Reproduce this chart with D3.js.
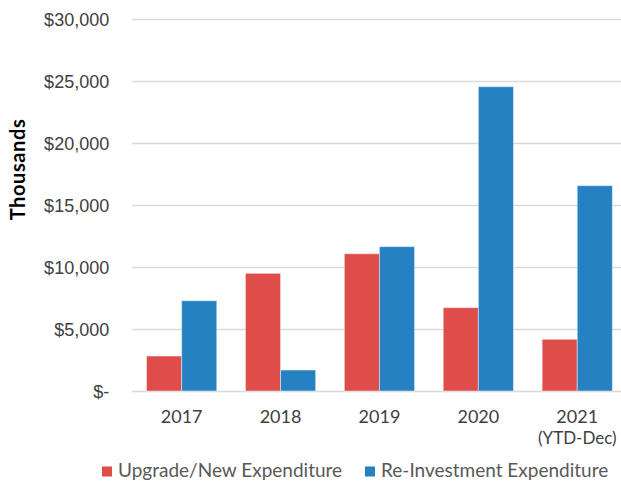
<!DOCTYPE html>
<html>
<head>
<meta charset="utf-8">
<script src="https://cdn.jsdelivr.net/npm/d3@7"></script>
<style>
  html, body { margin: 0; padding: 0; background: #fff; overflow: hidden; }
  svg { display: block; font-family: Lato, "Open Sans", sans-serif; }
</style>
</head>
<body>
<svg id="chart" width="621" height="485"></svg>
<script>
const categories = ["2017", "2018", "2019", "2020", "2021"];
const categoryLines = [["2017"], ["2018"], ["2019"], ["2020"], ["2021", "(YTD-Dec)"]];
const seriesNames = ["Upgrade/New Expenditure", "Re-Investment Expenditure"];
const upgradeNew = [2820, 9490, 11070, 6720, 4170];
const reInvestment = [7280, 1690, 11640, 24540, 16560];
const yTicks = [0, 5000, 10000, 15000, 20000, 25000, 30000];
const yTickLabels = ["$-", "$5,000", "$10,000", "$15,000", "$20,000", "$25,000", "$30,000"];
const colors = ["#DF4D4B", "#2581C2"];

const svg = d3.select("#chart");
const plotLeft = 132.2, plotRight = 626.7, plotTop = 19, plotBottom = 391;

const x = d3.scaleBand().domain(categories).range([plotLeft, plotRight])
  .paddingInner(0.29).paddingOuter(0.145);
const xs = d3.scaleBand().domain([0, 1]).range([0, x.bandwidth()]);
const y = d3.scaleLinear().domain([0, 30000]).range([plotBottom, plotTop]);

// gridlines
const yAxis = d3.axisLeft(y).tickValues(yTicks).tickSize(-(plotRight - plotLeft)).tickFormat((d, i) => yTickLabels[i]);
const gy = svg.append("g").attr("transform", `translate(${plotLeft},0)`).call(yAxis);
gy.select(".domain").remove();
gy.selectAll(".tick line").attr("stroke", "#D9D9D9").attr("stroke-width", 1.3);
gy.selectAll(".tick text")
  .attr("x", -23).attr("dy", "0.35em")
  .attr("fill", "#404040").style("font-size", "18px");

// bars
const series = [upgradeNew, reInvestment];
series.forEach((vals, si) => {
  svg.append("g").selectAll("rect").data(vals).join("rect")
    .attr("x", (d, i) => x(categories[i]) + xs(si))
    .attr("width", xs.bandwidth())
    .attr("y", d => y(d))
    .attr("height", d => y(0) - y(d))
    .attr("fill", colors[si])
    .attr("stroke", "rgba(255,255,255,0.45)")
    .attr("stroke-width", 1);
});

// x labels
const xl = svg.append("g");
categories.forEach((c, i) => {
  const cx = x(c) + x.bandwidth() / 2;
  categoryLines[i].forEach((line, j) => {
    xl.append("text")
      .attr("x", cx)
      .attr("y", j === 0 ? 423 : 443.5)
      .attr("text-anchor", "middle")
      .attr("fill", "#404040")
      .style("font-size", j === 0 ? "18px" : "17px")
      .text(line);
  });
});

// y axis title
svg.append("text")
  .attr("transform", "translate(25,169.5) rotate(-90)")
  .attr("text-anchor", "middle")
  .attr("fill", "#000")
  .style("font-size", "20px").style("font-weight", "bold")
  .style("letter-spacing", "0.6px")
  .text("Thousands");

// legend
const legendX = [102, 365];
seriesNames.forEach((name, i) => {
  const g = svg.append("g").attr("transform", `translate(${legendX[i]},0)`);
  g.append("rect").attr("x", 0).attr("y", 466.5).attr("width", 10).attr("height", 10).attr("fill", colors[i]);
  g.append("text").attr("x", 16).attr("y", 477).attr("fill", "#595959")
    .style("font-size", "19px").text(name);
});
</script>
</body>
</html>
